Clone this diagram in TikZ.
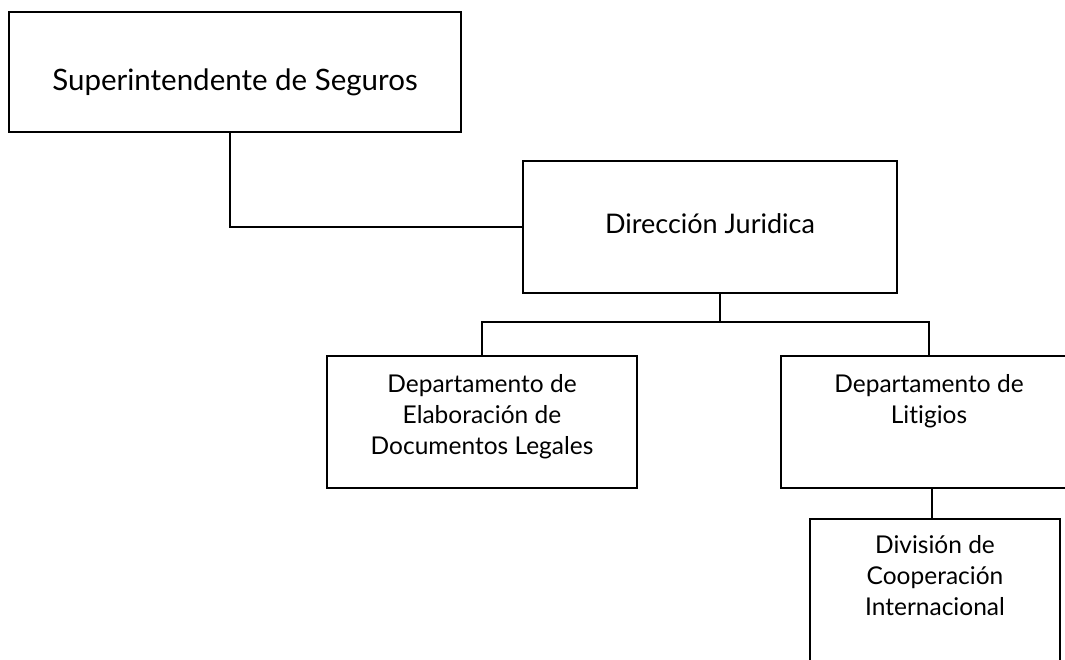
\documentclass[tikz,border=0pt]{standalone}
\usepackage{fontspec}
\setmainfont{Lato}[Ligatures=NoCommon]
\begin{document}
\begin{tikzpicture}[x=1pt,y=-1pt,
  box/.style 2 args={draw=black, line width=1.3pt, minimum width=#1pt, minimum height=#2pt, inner sep=0pt},
  lbl/.style={inner sep=0pt, align=center, font=\fontsize{24.5}{31}\selectfont},
  midlbl/.style={inner sep=0pt, align=center, font=\fontsize{27}{31}\selectfont},
  biglbl/.style={inner sep=0pt, align=center, font=\fontsize{29.5}{34}\selectfont},
  conn/.style={draw=black, line width=1.3pt}]
\useasboundingbox (0,0) rectangle (1065,660);
\clip (0,0) rectangle (1065,660);
\fill[white] (0,0) rectangle (1065,660);
% boxes
\node[box={452}{120}] (b1) at (235,72) {};
\node[box={374}{132}] (b2) at (710,227) {};
\node[box={310}{132}] (b3) at (482,422) {};
\node[box={296}{132}] (b4) at (929,422) {};
\node[box={250}{180}] (b5) at (935,609) {};
% texts
\node[biglbl, anchor=base] (t1) at (235,91) {Superintendente de Seguros};
\node[midlbl, anchor=base] (t2) at (710,234) {Dirección Juridica};
\node[lbl, anchor=north] (t3) at (482,374) {Departamento de\\Elaboración de\\Documentos Legales};
\node[lbl, anchor=north] (t4) at (929,374) {Departamento de\\Litigios};
\node[lbl, anchor=north] (t5) at (935,535) {División de\\Cooperación\\Internacional};
% connectors
\coordinate (bus) at (720,322);
\draw[conn] ([xshift=-5pt]b1.south) |- (b2.west);
\draw[conn] (b2.south -| bus) -- (bus);
\draw[conn] (b3.north) -- (b3.north |- bus) -- (b4.north |- bus) -- (b4.north);
\draw[conn] (b4.south -| 932,0) -- (b5.north -| 932,0);
\end{tikzpicture}
\end{document}
